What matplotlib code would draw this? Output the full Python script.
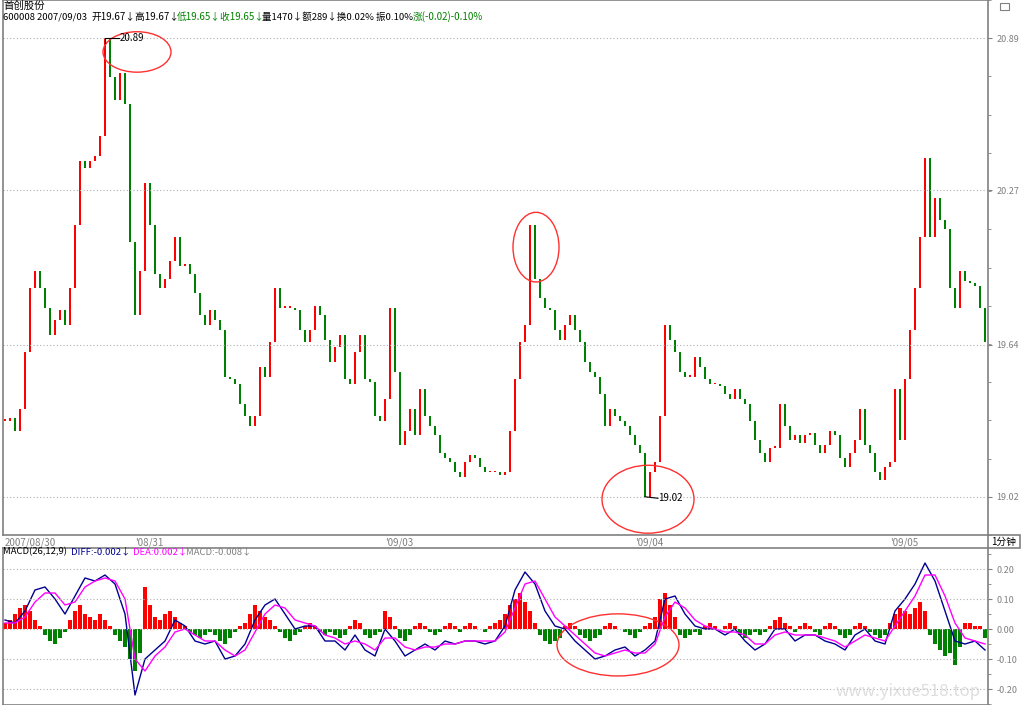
import numpy as np
import matplotlib.pyplot as plt
from matplotlib.patches import Ellipse, Rectangle

plt.rcParams['font.family'] = ['Noto Sans CJK SC', 'DejaVu Sans']

close = [19.33, 19.34, 19.29, 19.38, 19.61, 19.87, 19.94, 19.87, 19.79, 19.68,
         19.74, 19.78, 19.72, 19.87, 20.13, 20.39, 20.36, 20.39, 20.41, 20.49,
         20.89, 20.73, 20.64, 20.75, 20.62, 20.06, 19.76, 19.94, 20.30, 20.13,
         19.93, 19.87, 19.91, 19.98, 20.08, 19.96, 19.97, 19.93, 19.85, 19.76,
         19.72, 19.78, 19.74, 19.70, 19.51, 19.50, 19.48, 19.40, 19.35, 19.31,
         19.35, 19.55, 19.51, 19.65, 19.87, 19.79, 19.79, 19.79, 19.78, 19.70,
         19.65, 19.70, 19.80, 19.76, 19.66, 19.57, 19.63, 19.68, 19.50, 19.48,
         19.61, 19.68, 19.50, 19.49, 19.35, 19.33, 19.42, 19.79, 19.53, 19.23,
         19.29, 19.38, 19.27, 19.46, 19.35, 19.31, 19.27, 19.20, 19.18, 19.16,
         19.12, 19.10, 19.16, 19.19, 19.18, 19.14, 19.12, 19.12, 19.12, 19.11,
         19.12, 19.29, 19.50, 19.65, 19.72, 20.13, 19.91, 19.83, 19.79, 19.78,
         19.70, 19.66, 19.72, 19.76, 19.70, 19.65, 19.57, 19.53, 19.51, 19.44,
         19.31, 19.38, 19.35, 19.33, 19.31, 19.27, 19.23, 19.20, 19.02, 19.12,
         19.16, 19.35, 19.72, 19.66, 19.61, 19.53, 19.51, 19.51, 19.59, 19.55,
         19.50, 19.48, 19.48, 19.47, 19.44, 19.42, 19.46, 19.42, 19.40, 19.33,
         19.25, 19.20, 19.16, 19.22, 19.22, 19.40, 19.31, 19.25, 19.27, 19.24,
         19.27, 19.28, 19.23, 19.20, 19.23, 19.29, 19.27, 19.18, 19.14, 19.20,
         19.25, 19.38, 19.23, 19.20, 19.12, 19.09, 19.14, 19.16, 19.46, 19.25,
         19.50, 19.70, 19.87, 20.08, 20.40, 20.08, 20.24, 20.15, 20.11, 19.87,
         19.79, 19.94, 19.90, 19.89, 19.88, 19.79, 19.65]

# MACD(26,12,9) lines, read every second bar
diff = [0.03, 0.02, 0.06, 0.13, 0.14, 0.10, 0.05, 0.11, 0.17, 0.16,
        0.18, 0.15, 0.05, -0.22, -0.10, -0.07, -0.04, 0.03, 0.01, -0.04,
        -0.05, -0.04, -0.10, -0.09, -0.05, 0.03, 0.08, 0.10, 0.05, 0.00,
        0.01, 0.01, -0.04, -0.04, -0.07, -0.02, -0.07, -0.09, 0.00, -0.04,
        -0.09, -0.07, -0.05, -0.07, -0.04, -0.05, -0.04, -0.04, -0.05, -0.04,
        0.01, 0.13, 0.19, 0.15, 0.06, 0.01, 0.00, -0.04, -0.07, -0.10,
        -0.09, -0.07, -0.06, -0.09, -0.07, -0.04, 0.10, 0.11, 0.05, 0.01,
        0.00, 0.00, -0.02, 0.00, -0.04, -0.07, -0.05, 0.00, 0.00, -0.04,
        -0.02, -0.02, -0.04, -0.05, -0.07, -0.02, 0.00, -0.04, -0.05, 0.06,
        0.10, 0.15, 0.22, 0.16, 0.06, -0.04, -0.05, -0.04, -0.07]
dea = [0.02, 0.02, 0.04, 0.09, 0.12, 0.12, 0.08, 0.09, 0.14, 0.16,
       0.17, 0.16, 0.10, -0.10, -0.14, -0.09, -0.06, -0.01, 0.00, -0.02,
       -0.04, -0.04, -0.07, -0.09, -0.07, -0.01, 0.05, 0.08, 0.07, 0.03,
       0.02, 0.01, -0.02, -0.03, -0.05, -0.04, -0.05, -0.07, -0.03, -0.03,
       -0.06, -0.07, -0.06, -0.06, -0.05, -0.05, -0.04, -0.04, -0.04, -0.04,
       -0.01, 0.07, 0.15, 0.16, 0.10, 0.04, 0.01, -0.02, -0.05, -0.08,
       -0.09, -0.08, -0.07, -0.08, -0.08, -0.05, 0.04, 0.09, 0.07, 0.03,
       0.01, 0.00, -0.01, -0.01, -0.02, -0.05, -0.05, -0.02, -0.01, -0.02,
       -0.02, -0.02, -0.03, -0.04, -0.06, -0.04, -0.02, -0.03, -0.04, 0.01,
       0.06, 0.11, 0.18, 0.18, 0.11, 0.02, -0.03, -0.04, -0.05]
# MACD bars, one per price bar
macd_bar = [0.02, 0.03, 0.05, 0.07, 0.08, 0.06, 0.03, 0.01,
            -0.02, -0.04, -0.05, -0.03, -0.01,
            0.03, 0.06, 0.08, 0.05, 0.04, 0.03, 0.05,
            0.03, 0.01, -0.02, -0.04, -0.06,
            -0.10, -0.14, -0.08,
            0.14, 0.08, 0.04,
            0.03, 0.05, 0.06, 0.04, 0.02, 0.01, -0.01,
            -0.02, -0.03, -0.02, -0.01, -0.02,
            -0.04, -0.05, -0.03, -0.01, 0.01,
            0.02, 0.05, 0.08, 0.06, 0.04, 0.03, 0.01,
            -0.01, -0.03, -0.04, -0.02, -0.01,
            0.01, 0.02, 0.01, -0.01,
            -0.02, -0.01, -0.02, -0.03, -0.02, 0.01,
            0.03, 0.02,
            -0.02, -0.03, -0.02, -0.01,
            0.06, 0.04, 0.01,
            -0.03, -0.04, -0.02,
            0.01, 0.02, 0.01, -0.01, -0.02,
            -0.01, 0.01, 0.02, 0.01, -0.01, 0.01, 0.02, 0.01, 0.00, -0.01, 0.01, 0.02, 0.03,
            0.05, 0.08, 0.10, 0.12, 0.09, 0.06,
            0.02, -0.02, -0.04, -0.05, -0.04, -0.03,
            0.01, 0.02, 0.01, -0.02, -0.03, -0.04, -0.03, -0.02,
            0.01, 0.02, 0.01, 0.00, -0.01,
            -0.02, -0.03, -0.01, 0.01, 0.02, 0.04,
            0.10, 0.12, 0.08, 0.04,
            -0.02, -0.03, -0.02, -0.01, -0.02,
            0.01, 0.02, 0.01, 0.00, 0.01, 0.02, 0.01,
            -0.02, -0.03, -0.02, -0.01, -0.02, -0.01, 0.01,
            0.03, 0.04, 0.02, 0.01,
            -0.01, 0.01, 0.02, 0.01, -0.01, -0.02, 0.01, 0.02, 0.01,
            -0.02, -0.03, -0.02, 0.01,
            0.02, 0.01, -0.01, -0.02, -0.03, -0.02,
            0.02, 0.05, 0.07, 0.06, 0.05, 0.07, 0.09, 0.06,
            -0.02, -0.05, -0.07, -0.09, -0.08, -0.12, -0.06,
            0.02, 0.02, 0.01, 0.01, -0.03]

date_labels = ['2007/08/30', "'08/31", "'09/03", "'09/04", "'09/05"]
date_pos = [0, 26, 76, 126, 177]
price_ticks = [19.02, 19.64, 20.27, 20.89]
macd_ticks = [-0.20, -0.10, 0.00, 0.10, 0.20]

RED = '#ff0000'
GREEN = '#008000'
GRAY = '#808080'

fig = plt.figure(figsize=(10.24, 7.05), dpi=100)
W, H = 1024.0, 705.0

# ---- price panel ----
ax1 = fig.add_axes([3 / W, 1 - 535 / H, 985 / W, 535 / H])
c = np.array(close)
o = np.r_[c[0], c[:-1]]
x = np.arange(len(c))
up = c >= o
cols = np.where(up, RED, GREEN)
lo = np.minimum(o, c)
hgt = np.maximum(np.abs(c - o), 0.006)
ax1.bar(x, hgt, bottom=lo, width=0.5, color=cols, linewidth=0)

ax1.set_xlim(-0.4, len(c) - 0.4)
ax1.set_ylim(18.991, 20.991)
ax1.yaxis.tick_right()
ax1.set_yticks(price_ticks)
ax1.set_yticklabels(['%.2f' % v for v in price_ticks])
step = (price_ticks[-1] - price_ticks[0]) / 12
ax1.set_yticks([price_ticks[0] + k * step for k in range(-1, 14)], minor=True)
ax1.tick_params(axis='y', which='both', colors=GRAY, labelsize=6.5, length=3,
                direction='out', pad=3)
ax1.tick_params(axis='y', which='minor', length=2)
for t in price_ticks:
    ax1.axhline(t, color='#b0b0b0', lw=0.8, ls=(0, (1, 2)))
ax1.set_xticks(date_pos)
ax1.set_xticklabels(date_labels, ha='left')
ax1.tick_params(axis='x', length=0, colors=GRAY, labelsize=7, pad=2)
for s in ax1.spines.values():
    s.set_color(GRAY)
    s.set_linewidth(1.2)

# high / low markers
imax = int(np.argmax(c))
imin = int(np.argmin(c))
ax1.plot([imax, imax, imax + 2.8], [c[imax] - 0.02, c[imax], c[imax]], color='k', lw=0.8)
ax1.text(imax + 2.9, c[imax], '%.2f' % c[imax], fontsize=7, va='center', ha='left')
ax1.plot([imin, imin + 2.6], [c[imin], c[imin] - 0.006], color='k', lw=0.8)
ax1.text(imin + 2.7, c[imin] - 0.006, '%.2f' % c[imin], fontsize=7, va='center', ha='left')

# hand drawn circles
ax1.add_patch(Ellipse((26.4, 20.834), 13.6, 0.165, fill=False, ec='#ff3030', lw=1))
ax1.add_patch(Ellipse((106.2, 20.038), 9.2, 0.284, fill=False, ec='#ff3030', lw=1))
ax1.add_patch(Ellipse((128.6, 19.010), 18.4, 0.277, fill=False, ec='#ff3030', lw=1,
                      clip_on=False, zorder=5))

# header text
fig.text(3 / W, 1 - 6 / H, '首创股份', fontsize=7.5, va='center')
hy = 1 - 17 / H
fig.text(3 / W, hy, '600008 2007/09/03', fontsize=6.8, va='center')
fig.text(91 / W, hy, '开19.67↓高19.67↓', fontsize=7, va='center')
fig.text(177 / W, hy, '低19.65↓收19.65↓', fontsize=7, va='center', color=GREEN)
fig.text(262 / W, hy, '量1470↓额289↓换0.02% 振0.10%', fontsize=6.8, va='center')
fig.text(413 / W, hy, '涨(-0.02)-0.10%', fontsize=7, va='center', color=GREEN)

# period box and top-right icon
fig.add_artist(Rectangle((988 / W, 1 - 548 / H), 32 / W, 13 / H, transform=fig.transFigure,
                         fill=False, ec=GRAY, lw=1.2))
fig.text(1004 / W, 1 - 541.5 / H, '1分钟', fontsize=7, va='center', ha='center', color='k')
fig.add_artist(Rectangle((1000 / W, 1 - 10 / H), 9 / W, 7 / H, transform=fig.transFigure,
                         fill=False, ec=GRAY, lw=0.8))

# ---- MACD panel ----
ax2 = fig.add_axes([3 / W, 0, 985 / W, (705 - 548) / H])
mb = np.array(macd_bar)
ax2.bar(x, mb, width=0.75, color=np.where(mb >= 0, RED, GREEN), linewidth=0)
xl = np.arange(len(diff)) * 2
ax2.plot(xl, diff, color='#000090', lw=1)
ax2.plot(xl, dea, color='#ff00ff', lw=1)
ax2.set_xlim(-0.4, len(c) - 0.4)
ax2.set_ylim(-0.2533, 0.27)
ax2.set_xticks([])
ax2.yaxis.tick_right()
ax2.set_yticks(macd_ticks)
ax2.set_yticklabels(['%.2f' % v for v in macd_ticks])
ax2.set_yticks(np.arange(-0.25, 0.26, 0.05), minor=True)
ax2.tick_params(axis='y', which='both', colors=GRAY, labelsize=6.5, length=3,
                direction='out', pad=3)
ax2.tick_params(axis='y', which='minor', length=2)
for t in macd_ticks:
    ax2.axhline(t, color='#b0b0b0', lw=0.8, ls=(0, (1, 2)))
for s in ax2.spines.values():
    s.set_color(GRAY)
    s.set_linewidth(1.2)
ax2.add_patch(Ellipse((122.6, -0.053), 24.4, 0.207, fill=False, ec='#ff3030', lw=1))

my = 1 - 552 / H
fig.text(3 / W, my, 'MACD(26,12,9)', fontsize=6.8, va='center')
fig.text(71 / W, my, 'DIFF:-0.002↓', fontsize=6.8, va='center', color='#000090')
fig.text(133 / W, my, 'DEA:0.002↓', fontsize=6.8, va='center', color='#ff00ff')
fig.text(186 / W, my, 'MACD:-0.008↓', fontsize=6.8, va='center', color=GRAY)

# watermark of the source site
fig.text(836 / W, 1 - 692 / H, 'www.yixue518.top', fontsize=12, color='#d0d0d0',
         va='center', ha='left', alpha=0.7, zorder=0)

fig.savefig('out.png', dpi=100, facecolor='white')
